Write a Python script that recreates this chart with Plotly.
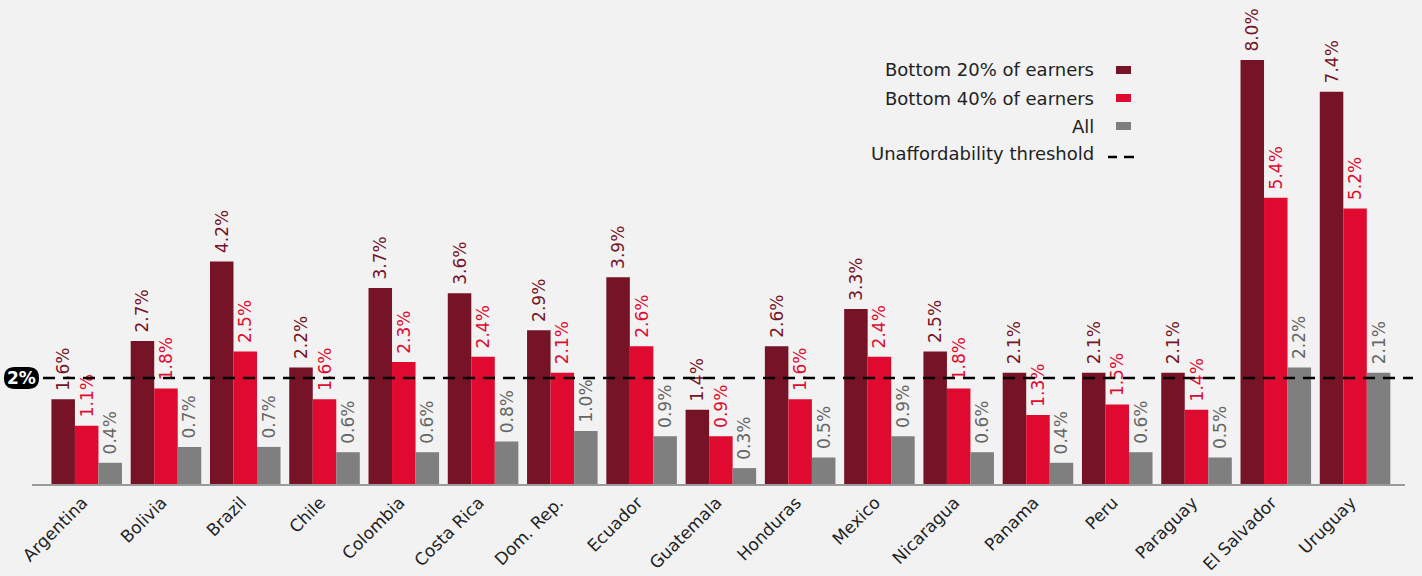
import plotly.graph_objects as go

countries = ["Argentina", "Bolivia", "Brazil", "Chile", "Colombia", "Costa Rica",
             "Dom. Rep.", "Ecuador", "Guatemala", "Honduras", "Mexico", "Nicaragua",
             "Panama", "Peru", "Paraguay", "El Salvador", "Uruguay"]
bottom20 = [1.6, 2.7, 4.2, 2.2, 3.7, 3.6, 2.9, 3.9, 1.4, 2.6, 3.3, 2.5, 2.1, 2.1, 2.1, 8.0, 7.4]
bottom40 = [1.1, 1.8, 2.5, 1.6, 2.3, 2.4, 2.1, 2.6, 0.9, 1.6, 2.4, 1.8, 1.3, 1.5, 1.4, 5.4, 5.2]
all_earners = [0.4, 0.7, 0.7, 0.6, 0.6, 0.8, 1.0, 0.9, 0.3, 0.5, 0.9, 0.6, 0.4, 0.6, 0.5, 2.2, 2.1]
threshold = 2.0

series_names = ["Bottom 20% of earners", "Bottom 40% of earners", "All"]
bar_colors = ["#761326", "#e00a30", "#7f7f7f"]
text_colors = ["#761326", "#e00a30", "#666666"]

FONT = "DejaVu Sans"
W, H = 1422, 576
ML, MR, MT, MB = 32, 17, 0, 92
PW, PH = W - ML - MR, H - MT - MB
X_RANGE = [-0.69, 16.63]
Y_RANGE = [0, PH / 53.0]


def px_x(px):
    return (px - ML) / PW


def px_y(py):
    return (H - MB - py) / PH


fig = go.Figure()
for name, vals, col, tcol in zip(series_names, [bottom20, bottom40, all_earners], bar_colors, text_colors):
    fig.add_trace(go.Bar(
        x=countries, y=vals, name=name, marker=dict(color=col, line=dict(width=0)),
        # leading space keeps the rotated value clear of the bar top
        text=[f" {v:.1f}%" for v in vals], textposition="outside", textangle=-90,
        textfont=dict(family=FONT, size=17, color=tcol), constraintext="none",
        cliponaxis=False, showlegend=False,
    ))

shapes = []
# threshold line
shapes.append(dict(type="line", xref="paper", yref="y", x0=px_x(43), x1=px_x(1413),
                   y0=threshold, y1=threshold, line=dict(color="#000000", width=2.5, dash="12px,8px")))

# "2%" pill
x0, x1, y0, y1, r = 4, 39, 367, 389, 11
pill = (f"M {px_x(x0 + r)},{px_y(y0)} L {px_x(x1 - r)},{px_y(y0)} "
        f"Q {px_x(x1)},{px_y(y0)} {px_x(x1)},{px_y((y0 + y1) / 2)} "
        f"Q {px_x(x1)},{px_y(y1)} {px_x(x1 - r)},{px_y(y1)} "
        f"L {px_x(x0 + r)},{px_y(y1)} "
        f"Q {px_x(x0)},{px_y(y1)} {px_x(x0)},{px_y((y0 + y1) / 2)} "
        f"Q {px_x(x0)},{px_y(y0)} {px_x(x0 + r)},{px_y(y0)} Z")
shapes.append(dict(type="path", xref="paper", yref="paper", path=pill,
                   fillcolor="#000000", line=dict(width=0)))

annotations = [dict(xref="paper", yref="paper", x=px_x(21.5), y=px_y(378), text="<b>2%</b>",
                    showarrow=False, font=dict(family=FONT, size=17, color="#ffffff"),
                    xanchor="center", yanchor="middle")]

# legend: text on the left, swatch on the right
legend_rows = [70, 98, 126, 153]
legend_labels = series_names + ["Unaffordability threshold"]
for i, (ly, lab) in enumerate(zip(legend_rows, legend_labels)):
    annotations.append(dict(xref="paper", yref="paper", x=px_x(1096), y=px_y(ly), text=lab,
                            showarrow=False, xanchor="right", yanchor="middle",
                            font=dict(family=FONT, size=18, color="#222222")))
    if i < 3:
        shapes.append(dict(type="rect", xref="paper", yref="paper",
                           x0=px_x(1116), x1=px_x(1131), y0=px_y(ly - 4), y1=px_y(ly + 4),
                           fillcolor=bar_colors[i], line=dict(width=0)))
    else:
        for a, b in [(1108, 1117), (1124, 1134)]:
            shapes.append(dict(type="line", xref="paper", yref="paper", x0=px_x(a), x1=px_x(b),
                               y0=px_y(ly + 4), y1=px_y(ly + 4), line=dict(color="#000000", width=2.5)))

fig.update_layout(
    width=W, height=H, margin=dict(l=ML, r=MR, t=MT, b=MB),
    paper_bgcolor="#f2f2f2", plot_bgcolor="#f2f2f2",
    barmode="group", bargap=0.11, bargroupgap=0,
    font=dict(family=FONT, color="#222222"),
    shapes=shapes, annotations=annotations,
    xaxis=dict(range=X_RANGE, tickangle=-45, tickfont=dict(family=FONT, size=17, color="#222222"),
               showline=True, linecolor="#9a9a9a", linewidth=2, ticks="", showgrid=False,
               ticklabelshift=-4),
    yaxis=dict(range=Y_RANGE, visible=False, showgrid=False, zeroline=False),
)

fig.write_html("out.html")
